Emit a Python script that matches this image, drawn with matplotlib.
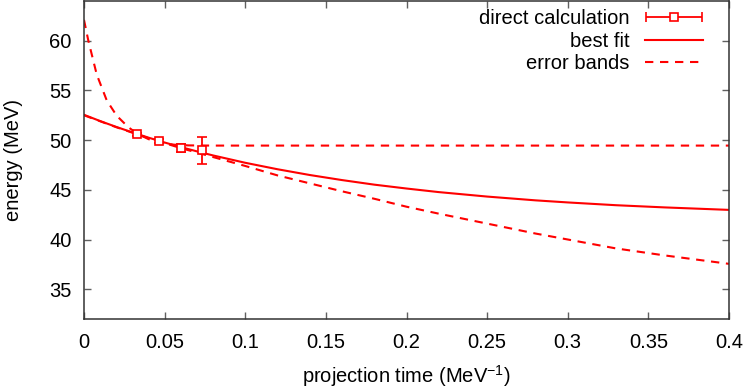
import numpy as np
import matplotlib as mpl
import matplotlib.pyplot as plt
from matplotlib.legend_handler import HandlerErrorbar
from matplotlib.container import ErrorbarContainer

plt.rcParams["font.family"] = ["Liberation Sans", "DejaVu Sans"]
plt.rcParams["font.size"] = 14.5
plt.rcParams["axes.unicode_minus"] = False

# direct calculation points
tau = [0.0331, 0.0465, 0.0600, 0.0734]
energy = [50.60, 49.93, 49.17, 48.96]
energy_err = [0.15, 0.18, 0.40, 1.35]

# best fit curve
fit_tau = [0, 0.01, 0.02, 0.03, 0.04, 0.05, 0.06, 0.07, 0.08, 0.1, 0.12, 0.14,
           0.16, 0.18, 0.2, 0.22, 0.25, 0.28, 0.3, 0.33, 0.36, 0.4]
fit_energy = [52.55, 51.92, 51.33, 50.78, 50.25, 49.76, 49.30, 48.87, 48.46, 47.72,
              47.07, 46.49, 45.98, 45.52, 45.13, 44.77, 44.32, 43.94, 43.73, 43.45,
              43.23, 42.98]

# error bands
up_tau = [0, 0.0027, 0.005, 0.0079, 0.0141, 0.0203, 0.0275, 0.033, 0.04, 0.047,
          0.055, 0.065, 0.08, 0.4]
up_energy = [62.1, 60.0, 58.5, 56.6, 54.0, 52.45, 51.3, 50.65, 50.1, 49.75,
             49.55, 49.47, 49.45, 49.45]
lo_tau = [0, 0.02, 0.04, 0.06, 0.08, 0.1, 0.12, 0.14, 0.16, 0.18, 0.2, 0.22,
          0.25, 0.28, 0.3, 0.33, 0.36, 0.4]
lo_energy = [52.5, 51.3, 50.2, 49.2, 48.3, 47.4, 46.45, 45.65, 44.85, 44.1, 43.3,
             42.6, 41.6, 40.6, 40.0, 39.1, 38.4, 37.55]

xticks = [0, 0.05, 0.1, 0.15, 0.2, 0.25, 0.3, 0.35, 0.4]
xticklabels = ["0", "0.05", "0.1", "0.15", "0.2", "0.25", "0.3", "0.35", "0.4"]
yticks = [35, 40, 45, 50, 55, 60]

red = "#ff0000"
dash = (0, (4, 3.2))
W, H = 747, 388
fig = plt.figure(figsize=(W / 100, H / 100), dpi=100)
ax = fig.add_axes([84 / W, (H - 319) / H, (729 - 84) / W, (319 - 1) / H])

ax.errorbar(tau, energy, yerr=energy_err, fmt="s", color=red, mfc="white",
            mec=red, ms=5.5, mew=1.2, elinewidth=1.3, capsize=3.5, capthick=1.3,
            zorder=4)
# proxy for the horizontal gnuplot-like legend sample
proxy = ax.errorbar([np.nan], [np.nan], xerr=[1], fmt="s", color=red, mfc="white",
                    mec=red, ms=5.5, mew=1.2, elinewidth=1.3, capsize=3.5,
                    capthick=1.3)
fit_line, = ax.plot(fit_tau, fit_energy, color=red, lw=1.5)
band_line, = ax.plot(up_tau, up_energy, color=red, lw=1.5, ls=dash)
ax.plot(lo_tau, lo_energy, color=red, lw=1.5, ls=dash)

ax.set_xlim(0, 0.4)
ax.set_ylim(32, 64)
ax.set_xticks(xticks)
ax.set_xticklabels(xticklabels)
ax.set_yticks(yticks)
ax.tick_params(direction="in", length=5, width=1, color="#606060", top=True,
               right=True, pad=10)
ax.tick_params(axis="y", pad=9)
for sp in ax.spines.values():
    sp.set_color("#333333")
    sp.set_linewidth(1.1)

ax.set_xlabel("projection time (MeV$^{\\mathregular{-1}}$)", labelpad=8)
ax.set_ylabel("energy (MeV)", labelpad=19)

ax.legend([proxy, fit_line, band_line],
          ["direct calculation", "best fit", "error bands"],
          handler_map={ErrorbarContainer: HandlerErrorbar(xerr_size=1.4)},
          loc="upper right", bbox_to_anchor=(0.96, 0.975), frameon=False,
          markerfirst=False, borderpad=0, borderaxespad=0, handlelength=2.9,
          handletextpad=0.75, labelspacing=0.18)

fig.savefig("out.png", dpi=100)
